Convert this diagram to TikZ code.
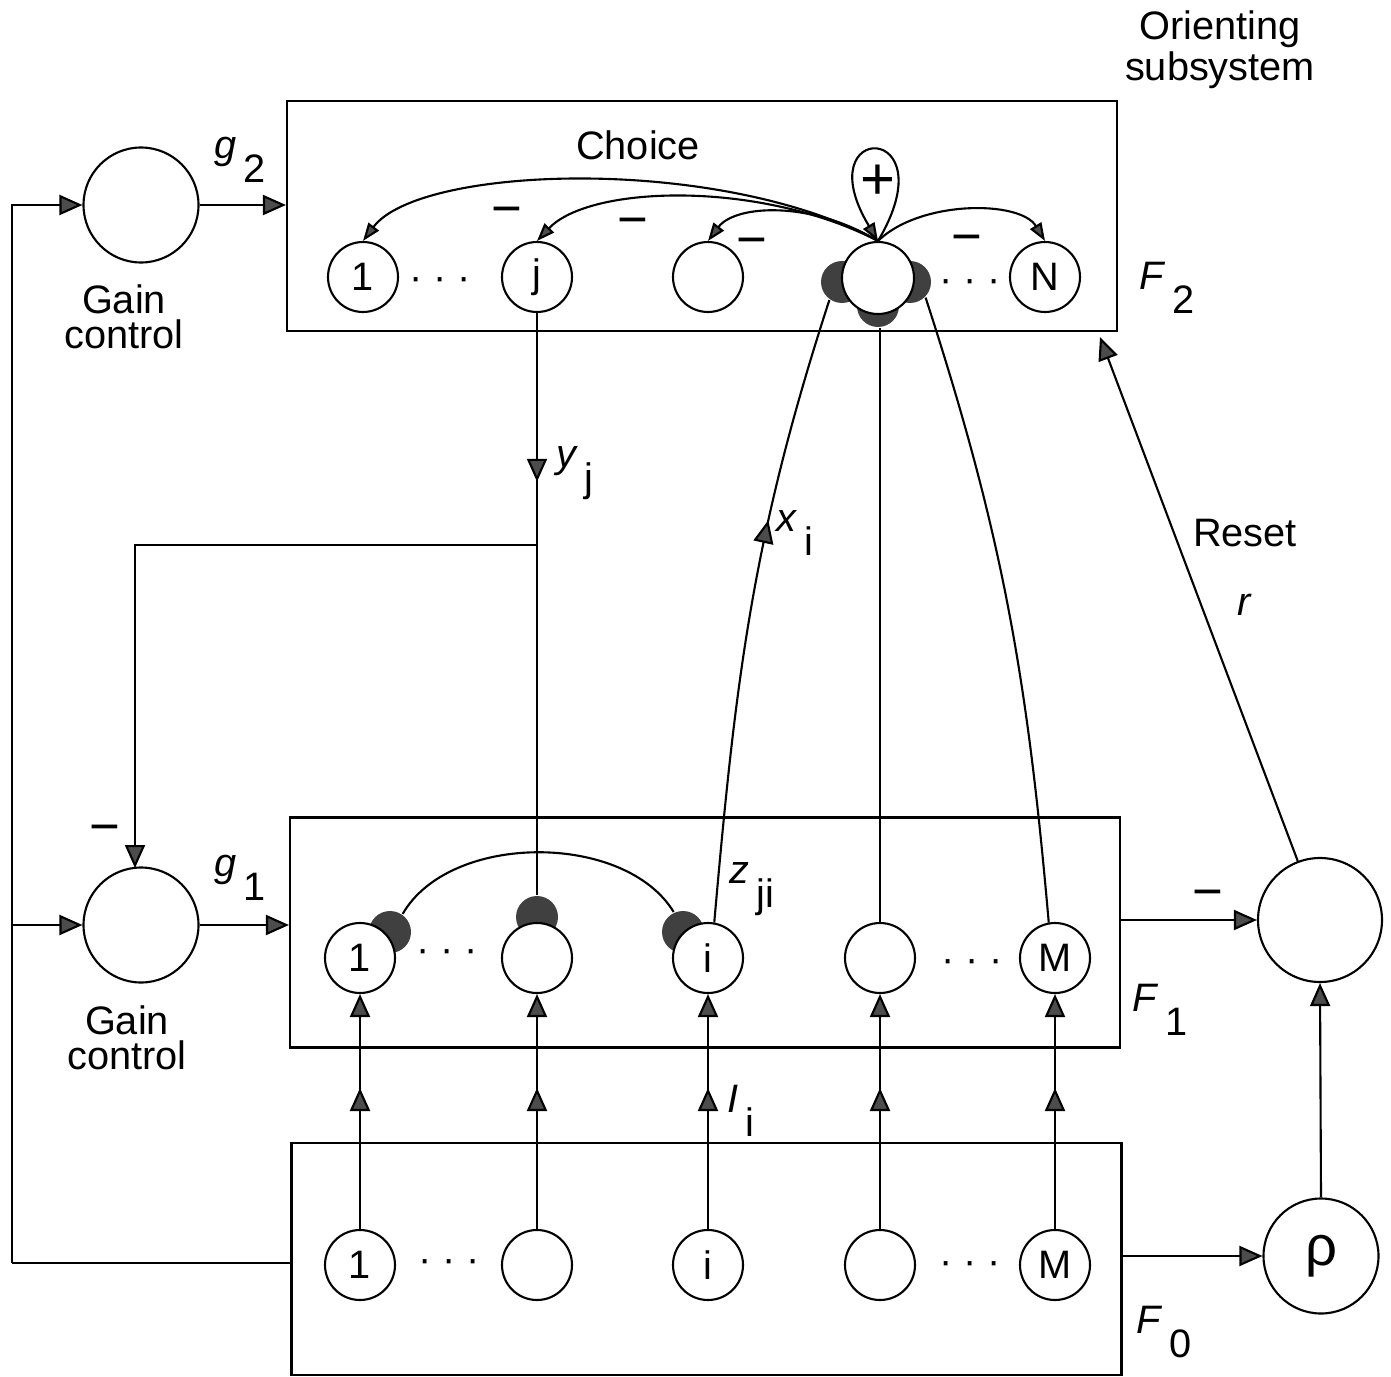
\documentclass[tikz,border=0pt]{standalone}
\usepackage{fontspec}
\setmainfont{Liberation Sans}
\usetikzlibrary{arrows.meta,calc,decorations.markings}

\tikzset{
  unit/.style={circle,draw,fill=white,minimum size=7mm,inner sep=0pt},
  gain/.style={circle,draw,fill=white,minimum size=11.5mm,inner sep=0pt},
  inhib/.style={circle,fill=black!75,minimum size=4.2mm,inner sep=0pt},
  layerbox/.style={draw,minimum width=8.3cm,minimum height=2.3cm,inner sep=0pt},
  arr/.style={-{Triangle[length=2.3mm,width=2mm,fill=black!70]}},
  sarr/.style={-{Triangle[length=1.8mm,width=1.3mm,fill=black!70]}},
  midarr/.style={postaction={decorate},decoration={markings,
      mark=at position #1 with {\arrow{Triangle[length=2.3mm,width=2mm,fill=black!70]}}}},
  dotsnode/.style={inner sep=0pt},
  sign/.style={inner sep=0pt}
}
\newcommand{\lowsub}[2]{\textit{#1}\,\raisebox{-7pt}{#2}}
\newcommand{\minus}{{\fontsize{15}{15}\selectfont −}}

\begin{document}
\begin{tikzpicture}[line width=0.6pt,font=\fontsize{11.3}{9.8}\selectfont]
\useasboundingbox (0,0) rectangle (13.91,-13.77);

% the three fields
\node[layerbox] (F2) at (7.02,-2.16) {};
\node[layerbox] (F1) at (7.05,-9.325) {};
\node[layerbox,minimum height=2.32cm] (F0) at (7.065,-12.59) {};

% F2, choice field
\node[unit] (f2a) at (3.63,-2.77) {1};
\node[unit] (f2j) at (5.37,-2.77) {j};
\node[unit] (f2c) at (7.08,-2.77) {};
\coordinate (k) at (8.78,-2.78);
\node[inhib] (kl) at ($(k)+(-0.36,-0.04)$) {};
\node[inhib] (kr) at ($(k)+(0.32,-0.04)$) {};
\node[inhib] (kb) at ($(k)+(0,-0.28)$) {};
\node[unit,minimum size=7.2mm] (f2k) at (k) {};
\node[unit] (f2n) at (10.45,-2.77) {N};
\node[dotsnode] at (4.40,-2.84) {· · ·};
\node[dotsnode] at (9.70,-2.86) {· · ·};

% competition
\draw[sarr] (f2k.north) .. controls (7.2,-1.55) and (4.2,-1.65) .. (f2a.north);
\draw[sarr] (f2k.north) .. controls (7.6,-1.8) and (5.9,-1.85) .. (f2j.north);
\draw[sarr] (f2k.north) .. controls (8.1,-2.0) and (7.35,-2.05) .. (f2c.north);
\draw[sarr] (f2k.north) .. controls (9.2,-2.0) and (10.2,-2.0) .. (f2n.north);
\draw[sarr] (f2k.north) .. controls (9.5,-1.2) and (8.05,-1.2) .. (f2k.north);
\node at (6.38,-1.45) {Choice};
\node at (8.78,-1.82) {\fontsize{17}{17}\selectfont +};
\node[sign] at (5.07,-2.17) {\minus};
\node[sign] at (6.33,-2.28) {\minus};
\node[sign] at (7.52,-2.48) {\minus};
\node[sign] at (9.67,-2.45) {\minus};

% F1
\coordinate (p1) at (3.60,-9.58);
\coordinate (pj) at (5.37,-9.58);
\coordinate (pi) at (7.08,-9.58);
\node[inhib] (d1) at ($(p1)+(0.30,0.26)$) {};
\node[inhib] (dj) at ($(pj)+(0,0.41)$) {};
\node[inhib] (di) at ($(pi)+(-0.25,0.26)$) {};
\node[unit] (f1a) at (p1) {1};
\node[unit] (f1b) at (pj) {};
\node[unit] (f1i) at (pi) {i};
\node[unit] (f1d) at (8.80,-9.58) {};
\node[unit] (f1m) at (10.55,-9.58) {M};
\node[dotsnode] at (4.47,-9.56) {· · ·};
\node[dotsnode] at (9.72,-9.66) {· · ·};
\draw (d1.55) .. controls (4.5,-8.32) and (6.25,-8.32) .. (di.115);

% F0
\node[unit] (f0a) at (3.60,-12.65) {1};
\node[unit] (f0b) at (5.37,-12.65) {};
\node[unit] (f0i) at (7.08,-12.65) {i};
\node[unit] (f0d) at (8.80,-12.65) {};
\node[unit] (f0m) at (10.55,-12.65) {M};
\node[dotsnode] at (4.49,-12.66) {· · ·};
\node[dotsnode] at (9.70,-12.68) {· · ·};

\foreach \n in {a,b,i,d,m}
  \draw[arr,midarr=0.6] (f0\n.north) -- (f1\n.south);

% bottom-up and top-down paths
\draw[midarr=0.29] (f2j.south) -- (dj.north);
\coordinate (yb) at (5.37,-5.45);
\draw[arr] (yb) -| (1.35,-8.68);
\draw[midarr=0.64] (f1i.80) to[out=85,in=-108] (kl.235);
\draw (f1d.north) -- (f1d.north |- kb.south);
\draw (f1m.100) to[out=95,in=-72] (kr.-45);

% gain control
\node[gain] (gc2) at (1.41,-2.05) {};
\node[gain] (gc1) at (1.41,-9.25) {};
\node[align=center] at (1.24,-3.17) {Gain\\control};
\node[align=center] at (1.27,-10.38) {Gain\\control};
\coordinate (lt) at (0.12,-12.63);
\draw (F0.west |- lt) -- (lt);
\draw[arr] (lt) |- (gc2.west);
\draw[arr] (lt |- gc1) -- (gc1.west);
\draw[arr] (gc2.east) -- (F2.west |- gc2);
\draw[arr] (gc1.east) -- (F1.west |- gc1);
\node[sign] at (1.05,-8.35) {\minus};

% orienting subsystem
\node[gain,minimum size=12.4mm] (orient) at (13.20,-9.20) {};
\node[gain] (rho) at (13.21,-12.56) {\fontsize{16}{16}\selectfont ρ};
\coordinate (rin) at (11.00,-3.37);
\draw[arr] (orient) -- (rin);
\draw[arr] (F1.east |- orient) -- (orient.west);
\draw[arr] (F0.east |- rho) -- (rho.west);
\draw[arr] (rho.north) -- (orient.south);
\node[sign] at (12.08,-9.00) {\minus};
\node[align=center] at (12.20,-0.50) {Orienting\\subsystem};
\node at (12.45,-5.33) {Reset};
\node at (12.45,-6.05) {\textit{r}};

% labels
\node at (2.40,-1.60) {\lowsub{g}{2}};
\node at (2.40,-8.78) {\lowsub{g}{1}};
\node at (11.67,-2.88) {\lowsub{F}{2}};
\node at (11.60,-10.10) {\lowsub{F}{1}};
\node at (11.64,-13.32) {\lowsub{F}{0}};
\node at (5.75,-4.73) {\lowsub{y}{j}};
\node at (7.95,-5.33) {\lowsub{x}{i}};
\node at (7.52,-8.89) {\lowsub{z}{ji}};
\node at (7.41,-11.11) {\lowsub{I}{i}};
\end{tikzpicture}
\end{document}
